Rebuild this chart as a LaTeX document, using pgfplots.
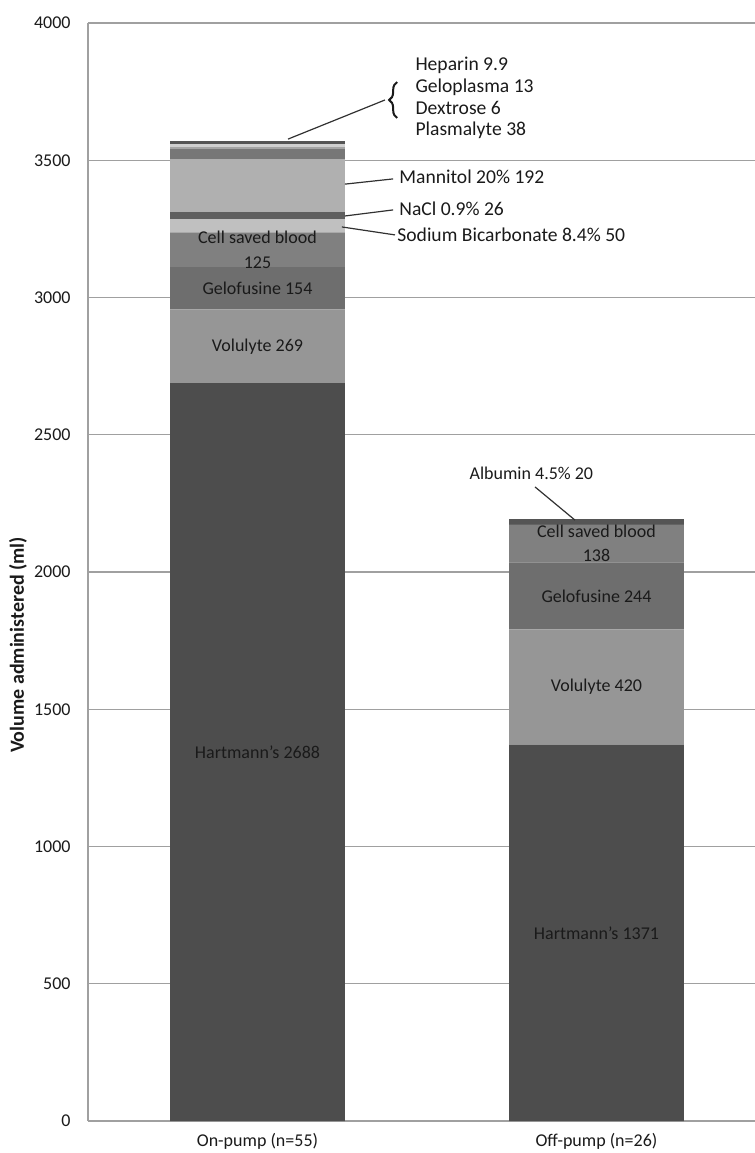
\documentclass[border=0pt]{standalone}
\usepackage{fontspec}
\setmainfont{Carlito}
\usepackage{pgfplots}
\pgfplotsset{compat=1.18}
\usetikzlibrary{decorations.pathreplacing}
\definecolor{gridc}{HTML}{A0A0A0}
\definecolor{txt}{HTML}{1A1A1A}
\definecolor{cHart}{HTML}{4D4D4D}
\definecolor{cVolu}{HTML}{969696}
\definecolor{cGelo}{HTML}{6E6E6E}
\definecolor{cCell}{HTML}{808080}
\definecolor{cBica}{HTML}{C0C0C0}
\definecolor{cNaCl}{HTML}{5F5F5F}
\definecolor{cMann}{HTML}{B0B0B0}
\definecolor{cPlas}{HTML}{777777}
\definecolor{cDext}{HTML}{A5A5A5}
\definecolor{cGelp}{HTML}{D0D0D0}
\definecolor{cHepa}{HTML}{555555}
\definecolor{cAlbu}{HTML}{555555}
\newcommand\f{\fontsize{9}{10.5}\selectfont}
\newcommand\h{\fontsize{9}{12.3}\selectfont}
\newcommand\g{\fontsize{9.8}{11.5}\selectfont}
\begin{document}
\begin{tikzpicture}
\begin{axis}[
 name=ax,
 scale only axis, width=333.5pt, height=549pt,
 ybar stacked, bar width=0.516,
 xmin=-0.5, xmax=1.4676, ymin=0, ymax=4000,
 xtick={0,1}, xticklabels={On-pump (n=55), Off-pump (n=26)},
 ytick={0,500,...,4000},
 ymajorgrids, grid style={color=gridc, line width=0.6pt},
 axis x line*=bottom, axis y line*=left,
 axis line style={color=gridc, line width=0.6pt, -},
 major tick length=0pt,
 tick label style={font=\f, inner sep=0pt, text=txt},
 yticklabel style={xshift=-8.5pt},
 xticklabel style={yshift=-6pt},
 /pgf/number format/assume math mode=true,
 /pgf/number format/1000 sep={},
 ylabel={Volume administered (ml)},
 ylabel style={font=\fontsize{10}{12}\selectfont\bfseries, text=txt, at={(axis description cs:-0.105,0.4335)}, anchor=center},
 clip=false,
 after end axis/.append code={
  % labels inside bars
  \node[font=\f, text=txt] at (axis cs:0,1344) {Hartmann's 2688};
  \node[font=\f, text=txt] at (axis cs:0,2822.5) {Volulyte 269};
  \node[font=\f, text=txt] at (axis cs:0,3034) {Gelofusine 154};
  \node[font=\h, text=txt, align=center, inner sep=0pt] at (axis cs:0,3173.5) {Cell saved blood\\125};
  \node[font=\f, text=txt] at (axis cs:1,685.5) {Hartmann's 1371};
  \node[font=\f, text=txt] at (axis cs:1,1581) {Volulyte 420};
  \node[font=\f, text=txt] at (axis cs:1,1913) {Gelofusine 244};
  \node[font=\h, text=txt, align=center, inner sep=0pt] at (axis cs:1,2104) {Cell saved blood\\138};
  % callouts
  \draw[color=txt!90, line width=0.6pt] (axis cs:0.258,3413) -- (axis cs:0.400,3432);
  \node[font=\g, text=txt, anchor=west, inner sep=0pt] at (axis cs:0.4174,3439) {Mannitol 20\% 192};
  \draw[color=txt!90, line width=0.6pt] (axis cs:0.258,3297) -- (axis cs:0.400,3319);
  \node[font=\g, text=txt, anchor=west, inner sep=0pt] at (axis cs:0.4174,3322) {NaCl 0.9\% 26};
  \draw[color=txt!90, line width=0.6pt] (axis cs:0.249,3257) -- (axis cs:0.4056,3228);
  \node[font=\g, text=txt, anchor=west, inner sep=0pt] at (axis cs:0.4115,3228) {Sodium Bicarbonate 8.4\% 50};
  \draw[color=txt!90, line width=0.6pt] (axis cs:0.090,3577) -- (axis cs:0.376,3719.5);
  \draw[color=txt, line width=1pt, decorate, decoration={brace, amplitude=4pt}] (axis cs:0.412,3654) -- (axis cs:0.412,3785);
  \node[font=\g, text=txt, anchor=west, inner sep=0pt] at (axis cs:0.465,3847) {Heparin 9.9};
  \node[font=\g, text=txt, anchor=west, inner sep=0pt] at (axis cs:0.465,3767) {Geloplasma 13};
  \node[font=\g, text=txt, anchor=west, inner sep=0pt] at (axis cs:0.465,3690) {Dextrose 6};
  \node[font=\g, text=txt, anchor=west, inner sep=0pt] at (axis cs:0.465,3610) {Plasmalyte 38};
  \draw[color=txt!90, line width=0.6pt] (axis cs:0.8186,2310) -- (axis cs:0.9366,2189);
  \node[font=\f, text=txt, inner sep=0pt] at (axis cs:0.808,2361) {Albumin 4.5\% 20};
 },
]
\addplot[fill=cHart, draw=none] coordinates {(0,2688) (1,1371)};
\addplot[fill=cVolu, draw=none] coordinates {(0,269) (1,420)};
\addplot[fill=cGelo, draw=none] coordinates {(0,154) (1,244)};
\addplot[fill=cCell, draw=none] coordinates {(0,125) (1,138)};
\addplot[fill=cBica, draw=none] coordinates {(0,50) (1,0)};
\addplot[fill=cNaCl, draw=none] coordinates {(0,26) (1,0)};
\addplot[fill=cMann, draw=none] coordinates {(0,192) (1,0)};
\addplot[fill=cPlas, draw=none] coordinates {(0,38) (1,0)};
\addplot[fill=cDext, draw=none] coordinates {(0,6) (1,0)};
\addplot[fill=cGelp, draw=none] coordinates {(0,13) (1,0)};
\addplot[fill=cHepa, draw=none] coordinates {(0,9.9) (1,0)};
\addplot[fill=cAlbu, draw=none] coordinates {(0,0) (1,20)};
\end{axis}
\pgfresetboundingbox
\path ([shift={(-44pt,-16pt)}]ax.south west) rectangle ([shift={(0pt,11.5pt)}]ax.north east);
\end{tikzpicture}
\end{document}
